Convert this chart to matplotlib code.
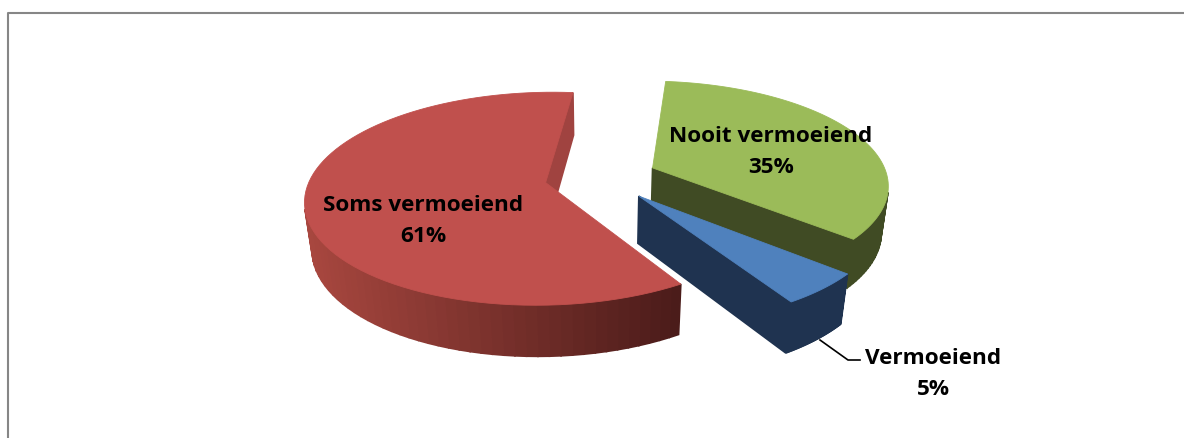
import numpy as np
import matplotlib
matplotlib.use('Agg')
import matplotlib.pyplot as plt
from matplotlib.colors import to_rgb
from matplotlib.patches import Polygon

labels = ['Nooit vermoeiend', 'Vermoeiend', 'Soms vermoeiend']
values = [35, 5, 61]
top_colors = ['#9BBB59', '#4F81BD', '#C0504D']
side_left = ['#404B24', '#1F3350', '#A8473F']
side_right = ['#404B24', '#1F3350', '#4A1B19']
wall_colors = ['#404B24', '#1F3350', '#A04340']
label_pos = [(771, 136), (933, 358), (423, 205)]

start_angle = 5.6
explode = 0.24

# projection of the pie plane to pixels, perspective by hand
cx, cy = 601, 178
rx, ry = 235, 102.4
k = 0.15
depth = 47.5
shrink = 0.025


def project(X, Y, z):
    w = 1 + k * Y + shrink * z
    return cx + rx * X / w, cy + (-ry * Y + depth * z) / w


def side_color(i, sx):
    f = np.clip((sx - 310) / (680 - 310), 0, 1)
    a, b = np.array(to_rgb(side_left[i])), np.array(to_rgb(side_right[i]))
    return tuple(a + (b - a) * f)


fig = plt.figure(figsize=(11.84, 4.39), dpi=100)
ax = fig.add_axes([0, 0, 1, 1])
ax.set_xlim(0, 1184)
ax.set_ylim(439, 0)
ax.axis('off')

# chart frame, only left and top are in the picture
ax.plot([8, 8, 1184], [439, 14, 14], color='#868686', lw=1.5)

total = sum(values)
angles = start_angle + np.concatenate([[0], np.cumsum(values)]) * 360 / total

# draw back to front
for i in [0, 2, 1]:
    t0, t1 = np.radians(angles[i]), np.radians(angles[i + 1])
    mid = (t0 + t1) / 2
    ox, oy = explode * np.sin(mid), explode * np.cos(mid)
    t = np.linspace(t0, t1, 90)
    X = np.concatenate([[ox], ox + np.sin(t)])
    Y = np.concatenate([[oy], oy + np.cos(t)])
    tx, ty = project(X, Y, 0)
    bx, by = project(X, Y, 1)

    # side faces, only those turned to the viewer
    n = len(X)
    for a in range(n):
        b = (a + 1) % n
        quad = np.array([[tx[a], ty[a]], [tx[b], ty[b]], [bx[b], by[b]], [bx[a], by[a]]])
        area = np.sum(quad[:, 0] * np.roll(quad[:, 1], -1) - np.roll(quad[:, 0], -1) * quad[:, 1])
        if area < 0:
            if a == 0 or a == n - 1:
                c = wall_colors[i]
            else:
                c = side_color(i, quad[:, 0].mean())
            ax.add_patch(Polygon(quad, closed=True, fc=c, ec=c, lw=1.2))
    ax.add_patch(Polygon(np.column_stack([tx, ty]), closed=True, fc=top_colors[i], ec=top_colors[i], lw=0.6))

# leader for the small slice
ax.plot([820, 848, 860], [341, 361, 361], color='black', lw=1.2)

for i, (x, y) in enumerate(label_pos):
    ax.text(x, y + 1, labels[i], ha='center', va='center', fontsize=16.2, fontweight='bold',
            family='Open Sans', color='black')
    ax.text(x, y + 32, f'{values[i]}%', ha='center', va='center', fontsize=16.2, fontweight='bold',
            family='Open Sans', color='black')

fig.savefig('out.png', dpi=100)
